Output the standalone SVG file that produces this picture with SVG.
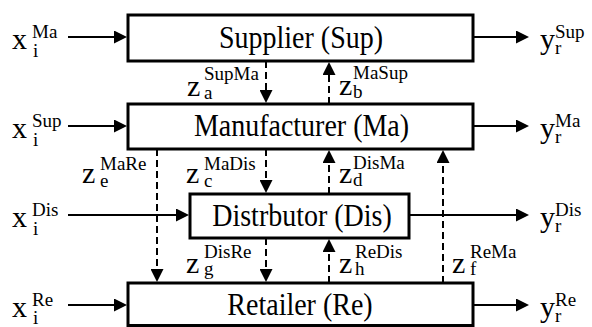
<svg xmlns="http://www.w3.org/2000/svg" width="592" height="327" viewBox="0 0 592 327">
  <style>
    .box { fill: #fff; stroke: #000; stroke-width: 3; }
    .flow { fill: none; stroke: #000; stroke-width: 2; marker-end: url(#ah); }
    .link { fill: none; stroke: #000; stroke-width: 2; stroke-dasharray: 7 4; marker-end: url(#ah); }
    text { font-family: "Liberation Serif", "Times New Roman", Times, "Noto Serif", "DejaVu Serif", FreeSerif, Tinos, serif; fill: #000; }
    .name { font-size: 28px; text-anchor: middle; }
    .v { font-size: 30px; }
    .s { font-size: 19px; }
  </style>
  <defs>
    <marker id="ah" viewBox="0 0 13 13" refX="1" refY="6.5" markerWidth="13" markerHeight="13" markerUnits="userSpaceOnUse" orient="auto">
      <path d="M0,0 L13,6.5 L0,13 Z" fill="#000"/>
    </marker>
  </defs>

  <!-- nodes -->
  <g id="supplier">
    <rect class="box" x="128" y="15" width="345" height="46"/>
    <text class="name" transform="translate(301 48) scale(1 1.15)">Supplier (Sup)</text>
  </g>
  <g id="manufacturer">
    <rect class="box" x="128" y="104" width="345" height="45"/>
    <text class="name" transform="translate(301.5 136) scale(1 1.15)">Manufacturer (Ma)</text>
  </g>
  <g id="distributor">
    <rect class="box" x="190" y="194" width="219" height="44"/>
    <text class="name" transform="translate(302 226) scale(1 1.15)">Distrbutor (Dis)</text>
  </g>
  <g id="retailer">
    <rect class="box" x="128" y="283" width="345" height="42.5"/>
    <text class="name" transform="translate(300 315) scale(1 1.15)">Retailer (Re)</text>
  </g>

  <!-- connectors -->
  <g id="connectors">
    <!-- external inputs -->
    <path class="flow" d="M68,37 H115"/>
    <path class="flow" d="M68,126 H115"/>
    <path class="flow" d="M68,215 H177"/>
    <path class="flow" d="M68,305 H115"/>
    <!-- external outputs -->
    <path class="flow" d="M473,37 H517"/>
    <path class="flow" d="M473,126 H517"/>
    <path class="flow" d="M409,215 H517"/>
    <path class="flow" d="M473,305 H517"/>
    <!-- internal links -->
    <path class="link" d="M266,61 V91"/>
    <path class="link" d="M329,104 V74"/>
    <path class="link" d="M157,149 V270"/>
    <path class="link" d="M266,149 V181"/>
    <path class="link" d="M329,194 V162"/>
    <path class="link" d="M443,283 V162"/>
    <path class="link" d="M266,238 V270"/>
    <path class="link" d="M329,283 V251"/>
  </g>

  <!-- input labels -->
  <g id="labels-x">
    <text class="v" x="12" y="49">x</text><text class="s" x="32" y="38">Ma</text><text class="s" x="33" y="57">i</text>
    <text class="v" x="12" y="138">x</text><text class="s" x="32" y="127">Sup</text><text class="s" x="33" y="146">i</text>
    <text class="v" x="12" y="227">x</text><text class="s" x="32" y="216">Dis</text><text class="s" x="33" y="235">i</text>
    <text class="v" x="12" y="317">x</text><text class="s" x="32" y="306">Re</text><text class="s" x="33" y="324">i</text>
  </g>

  <!-- output labels -->
  <g id="labels-y">
    <text class="v" x="540" y="49">y</text><text class="s" x="555" y="38">Sup</text><text class="s" x="555" y="54">r</text>
    <text class="v" x="540" y="138">y</text><text class="s" x="555" y="127">Ma</text><text class="s" x="555" y="143">r</text>
    <text class="v" x="540" y="227">y</text><text class="s" x="555" y="216">Dis</text><text class="s" x="555" y="232">r</text>
    <text class="v" x="540" y="317">y</text><text class="s" x="555" y="306">Re</text><text class="s" x="555" y="322">r</text>
  </g>

  <!-- flow labels -->
  <g id="labels-z">
    <text class="v" x="187" y="96">z</text><text class="s" x="204" y="80">SupMa</text><text class="s" x="204" y="99">a</text>
    <text class="v" x="339" y="95">z</text><text class="s" x="353" y="79">MaSup</text><text class="s" x="353" y="98">b</text>
    <text class="v" x="82" y="183">z</text><text class="s" x="100" y="170">MaRe</text><text class="s" x="100" y="187">e</text>
    <text class="v" x="186" y="183">z</text><text class="s" x="204" y="170">MaDis</text><text class="s" x="204" y="187">c</text>
    <text class="v" x="339" y="183">z</text><text class="s" x="353" y="169">DisMa</text><text class="s" x="353" y="186">d</text>
    <text class="v" x="186" y="273">z</text><text class="s" x="204" y="258">DisRe</text><text class="s" x="204" y="275">g</text>
    <text class="v" x="339" y="273">z</text><text class="s" x="355" y="258">ReDis</text><text class="s" x="355" y="275">h</text>
    <text class="v" x="452" y="273">z</text><text class="s" x="470" y="258">ReMa</text><text class="s" x="470" y="275">f</text>
  </g>
</svg>
